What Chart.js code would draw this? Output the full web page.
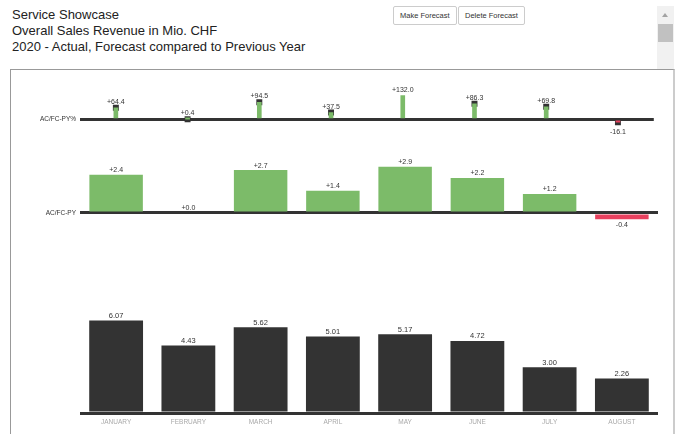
<!DOCTYPE html>
<html>
<head>
<meta charset="utf-8">
<script src="https://cdn.jsdelivr.net/npm/chart.js@4.4.1/dist/chart.umd.min.js"></script>
<style>
    body { margin: 0; width: 678px; height: 434px; overflow: hidden; background: #fff; position: relative; font-family: Arial, "Liberation Sans", sans-serif; }
    #title { position: absolute; left: 12px; top: 7px; font-size: 13px; line-height: 16px; color: #222; }
    .btn { position: absolute; top: 6px; height: 19px; box-sizing: border-box; border: 1px solid #ccc; border-radius: 2px; background: #fff; font-size: 7.5px; line-height: 17px; padding: 0 6px; color: #333; }
    #scroll { position: absolute; left: 657px; top: 6px; width: 17px; height: 63px; background: #f1f1f1; }
    #arrow { position: absolute; left: 5px; top: 7px; width: 0; height: 0; border-left: 3.5px solid transparent; border-right: 3.5px solid transparent; border-bottom: 4px solid #a3a3a3; }
    #thumb { position: absolute; left: 1px; top: 18px; width: 15px; height: 18px; background: #c1c1c1; }
    #frame { position: absolute; left: 10px; top: 69px; width: 662px; height: 380px; border-top: 1px solid #999; border-left: 1px solid #999; border-right: 2px solid #ccc; }
    canvas { position: absolute; left: 10px; }
</style>
</head>
<body>
<div id="title">Service Showcase<br>Overall Sales Revenue in Mio. CHF<br>2020 - Actual, Forecast compared to Previous Year</div>
<div class="btn" style="left:393px">Make Forecast</div>
<div class="btn" style="left:458px">Delete Forecast</div>
<div id="scroll"><div id="arrow"></div><div id="thumb"></div></div>
<div id="frame"></div>
<canvas id="pin-chart" width="648" height="70" style="top:70px"></canvas>
<canvas id="delta-chart" width="648" height="100" style="top:140px"></canvas>
<canvas id="sales-chart" width="648" height="194" style="top:240px"></canvas>
<script>
var months = ['JANUARY', 'FEBRUARY', 'MARCH', 'APRIL', 'MAY', 'JUNE', 'JULY', 'AUGUST'];
var deltaPct = [64.4, 0.4, 94.5, 37.5, 132.0, 86.3, 69.8, -16.1];
var pinHeads = [1, 1, 1, 1, 0, 1, 1, 1];
var deltaAbs = [2.4, 0.0, 2.7, 1.4, 2.9, 2.2, 1.2, -0.4];
var sales = [6.07, 4.43, 5.62, 5.01, 5.17, 4.72, 3.00, 2.26];

var GREEN = '#7cbb69';
var RED = '#e8405e';
var DARK = '#333333';

Chart.defaults.font.family = 'Arial, "Liberation Sans", sans-serif';
Chart.defaults.animation = false;

function signed(v, d) {
    return (v >= 0 ? '+' : '') + v.toFixed(d);
}

function posNeg(values) {
    return values.map(function (v) { return v < 0 ? RED : GREEN; });
}

// labels above / below each bar
var valueLabels = {
    id: 'valueLabels',
    afterDatasetsDraw: function (chart, args, opts) {
        var idx = opts.dataset || 0;
        var meta = chart.getDatasetMeta(idx);
        var values = chart.data.datasets[idx].data;
        var ctx = chart.ctx;
        ctx.save();
        ctx.font = opts.size + 'px Arial, "Liberation Sans", sans-serif';
        ctx.fillStyle = '#333';
        ctx.textAlign = 'center';
        ctx.textBaseline = 'alphabetic';
        meta.data.forEach(function (bar, i) {
            var v = values[i];
            var y = v >= 0 ? bar.y - opts.above : bar.y + opts.below;
            ctx.fillText(opts.format(v), bar.x, y);
        });
        ctx.restore();
    }
};

function yAxis(min, max, label) {
    return {
        min: min,
        max: max,
        z: 1,
        afterFit: function (s) {
            s.width = 70;
            s.paddingTop = 0;
            s.paddingBottom = 0;
        },
        afterBuildTicks: function (s) { s.ticks = [{ value: 0 }]; },
        ticks: {
            callback: function () { return label; },
            color: '#333',
            font: { size: 6.5 },
            padding: 4
        },
        grid: { color: DARK, lineWidth: 3, drawTicks: false },
        border: { display: false }
    };
}

// pin chart AC/FC-PY%
new Chart(document.getElementById('pin-chart').getContext('2d'), {
    type: 'bar',
    data: {
        labels: months,
        datasets: [{
            data: deltaPct,
            backgroundColor: posNeg(deltaPct),
            barThickness: 4,
            order: 1
        }, {
            type: 'line',
            data: deltaPct,
            showLine: false,
            pointStyle: 'rect',
            pointRadius: pinHeads.map(function (h) { return h ? 4.2 : 0; }),
            pointBorderWidth: 0,
            pointBackgroundColor: DARK,
            order: 2
        }]
    },
    options: {
        responsive: false,
        layout: { padding: 0 },
        plugins: {
            legend: { display: false },
            tooltip: { enabled: false },
            valueLabels: { dataset: 0, size: 7, above: 4, below: 12, format: function (v) { return signed(v, 1); } }
        },
        scales: {
            x: { display: false },
            y: yAxis(-91.2, 250, 'AC/FC-PY%')
        }
    },
    plugins: [valueLabels]
});

// variance bars AC/FC-PY
new Chart(document.getElementById('delta-chart').getContext('2d'), {
    type: 'bar',
    data: {
        labels: months,
        datasets: [{
            data: deltaAbs,
            backgroundColor: posNeg(deltaAbs),
            barPercentage: 1,
            categoryPercentage: 0.74
        }]
    },
    options: {
        responsive: false,
        layout: { padding: 0 },
        plugins: {
            legend: { display: false },
            tooltip: { enabled: false },
            valueLabels: { size: 7, above: 2.5, below: 8, format: function (v) { return signed(v, 1); } }
        },
        scales: {
            x: { display: false },
            y: yAxis(-1.70, 4.59, 'AC/FC-PY')
        }
    },
    plugins: [valueLabels]
});

// monthly sales
new Chart(document.getElementById('sales-chart').getContext('2d'), {
    type: 'bar',
    data: {
        labels: months,
        datasets: [{
            data: sales,
            backgroundColor: DARK,
            barPercentage: 1,
            categoryPercentage: 0.745
        }]
    },
    options: {
        responsive: false,
        layout: { padding: 0 },
        plugins: {
            legend: { display: false },
            tooltip: { enabled: false },
            valueLabels: { size: 7.5, above: 2.5, below: 8, format: function (v) { return v.toFixed(2); } }
        },
        scales: {
            x: {
                grid: { display: false, drawTicks: false },
                border: { display: false },
                ticks: { color: '#aaa', font: { size: 6.5 }, padding: 5, maxRotation: 0, autoSkip: false },
                afterFit: function (s) { s.height = 21; }
            },
            y: yAxis(0, 11.34, '')
        }
    },
    plugins: [valueLabels]
});
</script>
</body>
</html>
